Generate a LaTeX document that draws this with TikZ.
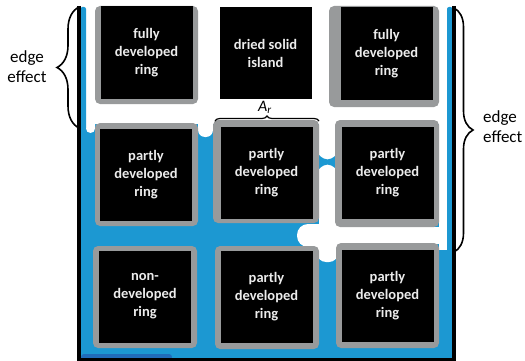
\documentclass[tikz,border=0pt]{standalone}
\usepackage{fontspec}
\setmainfont{Carlito}
\usetikzlibrary{decorations.pathreplacing}
\definecolor{liquidblue}{RGB}{28,152,210}
\definecolor{deepblue}{RGB}{32,108,186}
\definecolor{ringgray}{RGB}{152,154,155}
\definecolor{ringtext}{RGB}{236,236,236}

\begin{document}
\begin{tikzpicture}[x=1pt, y=-1pt,
  ringbox/.style={fill=black, text=ringtext, font=\fontsize{14.5}{18}\selectfont\bfseries, align=center, inner sep=0pt, minimum size=92pt},
  rim/.style={fill=ringgray, rounded corners=5pt},
  edgebrace/.style={decorate, decoration={brace, amplitude=#1}, line width=1.6pt, black},
  sidetext/.style={font=\fontsize{17}{20}\selectfont, align=center, inner sep=0pt},
]
\useasboundingbox (0,0) rectangle (525,361);

% Liquid
\fill[liquidblue] (81,124) rectangle (452,358);
\fill[white, rounded corners=4.5pt] (86,100) rectangle (95,133);
\fill[white, rounded corners=7pt] (198,100) rectangle (213,137);

% Dry channel on the right
\fill[white] (319,100) rectangle (336,246);
\fill[white] (439,100) rectangle (447,250);
\fill[white] (330,227) rectangle (447,244);
\fill[white, rounded corners=11pt] (297,224) rectangle (345,247);
\fill[white, rounded corners=9pt] (317,226) rectangle (338,262);
\fill[liquidblue] (319,155) .. controls (325,161) and (330,161) .. (336,155)
  -- (336,169) .. controls (330,163) and (325,163) .. (319,169) -- cycle;

% Wall films
\fill[liquidblue, rounded corners=2pt] (80.5,7) rectangle (86,130);
\fill[liquidblue, rounded corners=2pt] (447,7) rectangle (452.5,358);
\fill[deepblue, rounded corners=3pt] (81,354) rectangle (172,360);

% Container
\draw[line width=3.5pt] (79,6) -- (79,359.5) -- (454,359.5) -- (454,6);

% Rims
\fill[rim] (95,6) rectangle (198,104);
\fill[rim] (329,6) rectangle (439,107);
\fill[rim] (95,123) rectangle (198,226);
\fill[rim] (213,120) rectangle (319,223);
\fill[rim] (335,120) rectangle (439,227);
\fill[rim] (93,246) rectangle (197,348);
\fill[rim] (215,246) rectangle (319,349);
\fill[rim] (336,243) rectangle (439,348);

% Row 1
\node[ringbox] (ringA) at (146.5,52.5) {fully\\developed\\ring};
\node[ringbox] (island) at (265.5,53) {dried solid\\island};
\node[ringbox] (ringC) at (386.5,53.5) {fully\\developed\\ring};

% Row 2
\node[ringbox] (ringD) at (146,174.5) {partly\\developed\\ring};
\node[ringbox] (ringE) at (266.5,173) {partly\\developed\\ring};
\node[ringbox] (ringF) at (387.5,173) {partly\\developed\\ring};

% Row 3
\node[ringbox] (ringG) at (145,296.5) {non-\\developed\\ring};
\node[ringbox] (ringH) at (266.5,297) {partly\\developed\\ring};
\node[ringbox] (ringI) at (387.5,296) {partly\\developed\\ring};

% Braces
\coordinate (ltop) at (79,7);
\coordinate (lbot) at (79,128);
\coordinate (rtop) at (454,8);
\coordinate (rbot) at (454,252);
\coordinate (arleft) at (215,121);
\coordinate (arright) at (319,121);
\draw[edgebrace=22pt] (lbot) -- (ltop);
\draw[edgebrace=19pt] (rtop) -- (rbot);
\draw[edgebrace=5pt, line width=1.2pt] (arleft) -- (arright);

\node[sidetext] (edgeL) at (27,67) {edge\\effect};
\node[sidetext, align=left, anchor=west] (edgeR) at (483,127) {edge\\effect};
\node[font=\fontsize{16}{16}\selectfont\itshape, inner sep=0pt] (arlabel) at (265,107.5) {A\textsubscript{r}};
\end{tikzpicture}
\end{document}
